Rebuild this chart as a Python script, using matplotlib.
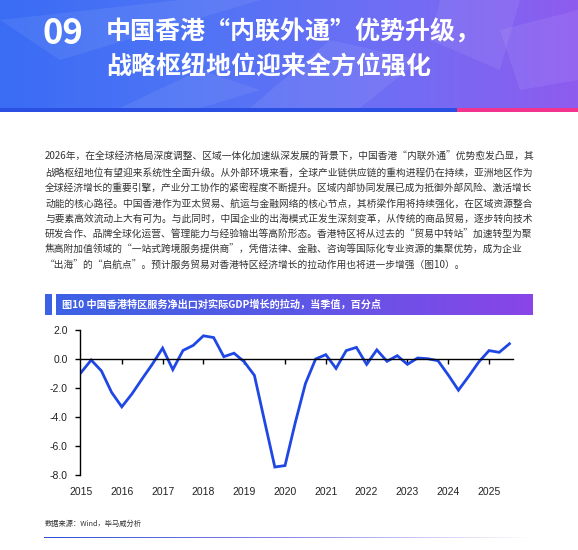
import numpy as np
import matplotlib
matplotlib.use("Agg")
import matplotlib.pyplot as plt
from matplotlib.colors import LinearSegmentedColormap
from matplotlib.patches import Polygon, Rectangle

plt.rcParams['font.family'] = ['Noto Sans CJK SC', 'DejaVu Sans']

# quarterly contribution of HK services net exports to real GDP growth, from 2015 Q1
start_year = 2015
values = [-0.94, -0.07, -0.82, -2.30,
          -3.30, -2.40, -1.36, -0.35,
          0.75, -0.73, 0.59, 0.94,
          1.60, 1.48, 0.16, 0.40,
          -0.19, -1.13, -4.30, -7.45,
          -7.35, -4.40, -1.70, 0.00,
          0.30, -0.65, 0.58, 0.80,
          -0.37, 0.63, -0.16, 0.23,
          -0.37, 0.07, 0.02, -0.12,
          -1.10, -2.15, -1.20, -0.20,
          0.58, 0.46, 1.05]
year_labels = ['2015', '2016', '2017', '2018', '2019', '2020',
               '2021', '2022', '2023', '2024', '2025']
y_ticks = [-8.0, -6.0, -4.0, -2.0, 0.0, 2.0]

title_no = "09"
title_lines = ["中国香港“内联外通”优势升级，", "战略枢纽地位迎来全方位强化"]
para_lines = [
    "2026年，在全球经济格局深度调整、区域一体化加速纵深发展的背景下，中国香港“内联外通”优势愈发凸显，其",
    "战略枢纽地位有望迎来系统性全面升级。从外部环境来看，全球产业链供应链的重构进程仍在持续，亚洲地区作为",
    "全球经济增长的重要引擎，产业分工协作的紧密程度不断提升。区域内部协同发展已成为抵御外部风险、激活增长",
    "动能的核心路径。中国香港作为亚太贸易、航运与金融网络的核心节点，其桥梁作用将持续强化，在区域资源整合",
    "与要素高效流动上大有可为。与此同时，中国企业的出海模式正发生深刻变革，从传统的商品贸易，逐步转向技术",
    "研发合作、品牌全球化运营、管理能力与经验输出等高阶形态。香港特区将从过去的“贸易中转站”加速转型为聚",
    "焦高附加值领域的“一站式跨境服务提供商”，凭借法律、金融、咨询等国际化专业资源的集聚优势，成为企业",
    "“出海”的“启航点”。预计服务贸易对香港特区经济增长的拉动作用也将进一步增强（图10）。",
]
chart_title = "图10 中国香港特区服务净出口对实际GDP增长的拉动，当季值，百分点"
source = "数据来源：Wind，毕马威分析"

W, H = 578, 550
fig = plt.figure(figsize=(W / 100, H / 100), dpi=100)
fig.patch.set_facecolor('white')


def box(x0, y0, x1, y1):
    return [x0 / W, 1 - y1 / H, (x1 - x0) / W, (y1 - y0) / H]


# header banner
hdr = fig.add_axes(box(0, 0, W, 108))
hdr.set_axis_off()
cmap = LinearSegmentedColormap.from_list('hdr', ['#3a6cf4', '#4f74f6', '#6f6ef4', '#8e5cef'])
grad = np.tile(np.linspace(0, 1, 256), (32, 1))
hdr.imshow(grad, cmap=cmap, aspect='auto', extent=(0, W, 108, 0))
facets = [
    [(0, 20), (180, 0), (260, 0), (60, 60)],
    [(250, 108), (330, 40), (420, 60), (360, 108)],
    [(440, 0), (520, 0), (500, 70), (430, 40)],
    [(500, 30), (578, 10), (578, 80), (520, 90)],
    [(120, 108), (200, 70), (260, 90), (200, 108)],
]
for pts in facets:
    hdr.add_patch(Polygon(pts, closed=True, facecolor='white', alpha=0.07, edgecolor='none'))
hdr.set_xlim(0, W)
hdr.set_ylim(108, 0)
hdr.text(42, 33, title_no, color='white', fontsize=25, fontweight='bold',
         ha='left', va='center')
hdr.text(106, 32, title_lines[0], color='white', fontsize=18, fontweight='bold',
         ha='left', va='center')
hdr.text(106, 67, title_lines[1], color='white', fontsize=18, fontweight='bold',
         ha='left', va='center')

# stripe under header
fig.add_artist(Rectangle((0, 1 - 112 / H), 457 / W, 4 / H, transform=fig.transFigure,
                         facecolor='#2b4fe2', edgecolor='none'))
fig.add_artist(Rectangle((457 / W, 1 - 112 / H), 121 / W, 4 / H, transform=fig.transFigure,
                         facecolor='#f2348f', edgecolor='none'))

# paragraph
for i, line in enumerate(para_lines):
    fig.text(45 / W, 1 - (157 + 15.5 * i) / H, line, fontsize=7.0, color='#333333',
             ha='left', va='center')

# chart title bar
tb = fig.add_axes(box(45, 294, 533, 315))
tb.set_axis_off()
tcmap = LinearSegmentedColormap.from_list('tb', ['#3b62e4', '#5a58e6', '#8a45e8'])
tb.imshow(np.tile(np.linspace(0, 1, 256), (8, 1)), cmap=tcmap, aspect='auto',
          extent=(45, 533, 315, 294))
tb.add_patch(Rectangle((52, 294), 4, 21, facecolor='white', edgecolor='none'))
tb.set_xlim(45, 533)
tb.set_ylim(315, 294)
tb.text(62, 304.5, chart_title, color='white', fontsize=7.3, fontweight='bold',
        ha='left', va='center')

# line chart
ax = fig.add_axes(box(81, 330, 512.7, 475))
x = start_year + np.arange(len(values)) / 4
ax.plot(x, values, color='#1f47e6', lw=2.0, solid_joinstyle='miter')
ax.set_xlim(start_year, 2025.58)
ax.set_ylim(-8, 2)
ax.spines['top'].set_visible(False)
ax.spines['right'].set_visible(False)
ax.spines['bottom'].set_position(('data', 0))
ax.spines['left'].set_position(('outward', 1))
for s in ('bottom', 'left'):
    ax.spines[s].set_color('black')
    ax.spines[s].set_linewidth(1.0)
ax.set_yticks(y_ticks)
ax.set_yticklabels([f"{v:.1f}" for v in y_ticks], family=['Liberation Sans', 'DejaVu Sans'])
ax.tick_params(axis='y', direction='out', length=3.5, width=1, pad=5,
               labelsize=7.5, colors='black', labelcolor='#222222')
year_pos = [int(y) for y in year_labels]
ax.set_xticks(year_pos[1:])
ax.tick_params(axis='x', direction='out', length=3.5, width=1, labelbottom=False)
for yp, lab in zip(year_pos, year_labels):
    ax.text(yp, -0.118, lab, transform=ax.get_xaxis_transform(), ha='center', va='center',
            fontsize=7.5, color='#222222', family=['Liberation Sans', 'DejaVu Sans'])

# source
fig.text(45 / W, 1 - 524 / H, source, fontsize=5.2, color='#333333', ha='left', va='center')

# bottom fading rule
bl = fig.add_axes(box(44, 536.5, 533, 538))
bl.set_axis_off()
bcmap = LinearSegmentedColormap.from_list('bl', ['#2e4fd8', '#8b86e8', '#ffffff'])
bl.imshow(np.tile(np.linspace(0, 1, 256), (2, 1)), cmap=bcmap, aspect='auto')

fig.savefig('out.png', dpi=100)
